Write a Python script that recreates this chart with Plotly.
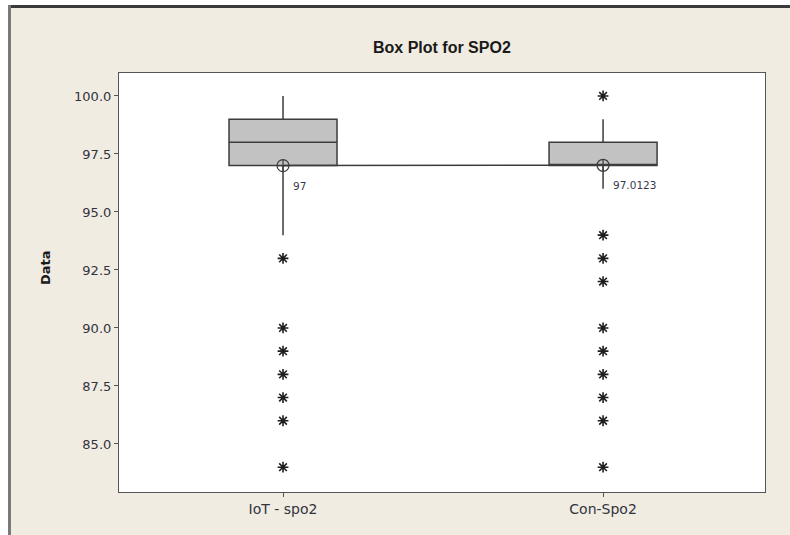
import plotly.graph_objects as go

# Groups and five-number summaries
groups = ["IoT - spo2", "Con-Spo2"]
q1_vals = [97, 97]
median_vals = [98, 97]
q3_vals = [99, 98]
lower_whisker = [94, 96]
upper_whisker = [100, 99]
mean_vals = [97, 97.0123]
mean_labels = ["97", "97.0123"]

# Outlying observations per group
iot_outliers = [93, 90, 89, 88, 87, 86, 84]
con_outliers = [100, 94, 93, 92, 90, 89, 88, 87, 86, 84]

y_ticks = [85.0, 87.5, 90.0, 92.5, 95.0, 97.5, 100.0]

W, H = 790, 535
L, R, T, B = 119, 25, 73, 43
PW, PH = W - L - R, H - T - B


def px_x(px):
    return (px - L) / PW


def px_y(py):
    return 1 - (py - T) / PH


BG = "#F0ECE2"
INK = "#3C3C3C"
TXT = "#333340"

fig = go.Figure()

# Line joining the group means
fig.add_trace(go.Scatter(
    x=groups, y=mean_vals, mode="lines",
    line=dict(color=INK, width=1.5), hoverinfo="skip", showlegend=False,
))

fig.add_trace(go.Box(
    x=groups, q1=q1_vals, median=median_vals, q3=q3_vals,
    lowerfence=lower_whisker, upperfence=upper_whisker,
    boxpoints=False, whiskerwidth=0, width=0.3375,
    fillcolor="#C2C2C2", line=dict(color=INK, width=1.5),
    showlegend=False,
))

# Mean symbols
fig.add_trace(go.Scatter(
    x=groups, y=mean_vals, mode="markers",
    marker=dict(symbol="circle-cross-open", size=12, color=INK,
                line=dict(color=INK, width=1.2)),
    showlegend=False,
))

# Outliers
for g, vals in zip(groups, [iot_outliers, con_outliers]):
    fig.add_trace(go.Scatter(
        x=[g] * len(vals), y=vals, mode="markers",
        marker=dict(symbol="asterisk-open", size=9, color="#1E1E1E",
                    line=dict(color="#1E1E1E", width=1.6)),
        showlegend=False,
    ))

annotations = []
for g, m, lab in zip(groups, mean_vals, mean_labels):
    annotations.append(dict(
        x=g, y=m, xref="x", yref="y", text=lab, showarrow=False,
        xanchor="left", yanchor="top", xshift=8, yshift=-12,
        font=dict(family="DejaVu Sans", size=10.5, color="#3A3A4A"),
    ))

annotations.append(dict(
    x=0.5, y=px_y(47), xref="paper", yref="paper",
    text="<b>Box Plot for SPO2</b>", showarrow=False,
    xanchor="center", yanchor="middle",
    font=dict(family="Liberation Sans", size=16, color="#1A1A1A"),
))
annotations.append(dict(
    x=px_x(45), y=px_y(268), xref="paper", yref="paper",
    text="<b>Data</b>", showarrow=False, textangle=-90,
    xanchor="center", yanchor="middle",
    font=dict(family="DejaVu Sans", size=13, color="#1A1A1A"),
))

shapes = [
    # white strips outside the window frame
    dict(type="rect", xref="paper", yref="paper", x0=px_x(0), x1=px_x(W),
         y0=px_y(5), y1=px_y(0), fillcolor="white", line=dict(width=0)),
    dict(type="rect", xref="paper", yref="paper", x0=px_x(0), x1=px_x(8),
         y0=px_y(H), y1=px_y(0), fillcolor="white", line=dict(width=0)),
    # window frame edges
    dict(type="line", xref="paper", yref="paper", x0=px_x(8), x1=px_x(W),
         y0=px_y(6.5), y1=px_y(6.5), line=dict(color="#3A3A3A", width=3)),
    dict(type="line", xref="paper", yref="paper", x0=px_x(9.5), x1=px_x(9.5),
         y0=px_y(5), y1=px_y(H), line=dict(color="#7A7A7A", width=3)),
]

fig.update_layout(
    width=W, height=H,
    margin=dict(l=L, r=R, t=T, b=B),
    paper_bgcolor=BG, plot_bgcolor="white",
    showlegend=False,
    annotations=annotations, shapes=shapes,
    xaxis=dict(
        type="category", range=[-0.5125, 1.506],
        showgrid=False, zeroline=False,
        showline=True, linecolor="#555555", linewidth=1.2, mirror=True,
        ticks="outside", ticklen=4, tickcolor="#555555",
        tickfont=dict(family="DejaVu Sans", size=14, color=TXT),
    ),
    yaxis=dict(
        range=[82.93, 100.99],
        tickvals=y_ticks, tickformat=".1f",
        showgrid=False, zeroline=False,
        showline=True, linecolor="#555555", linewidth=1.2, mirror=True,
        ticks="outside", ticklen=4, tickcolor="#555555",
        tickfont=dict(family="DejaVu Sans", size=13, color=TXT),
    ),
)

fig.write_html("out.html")
